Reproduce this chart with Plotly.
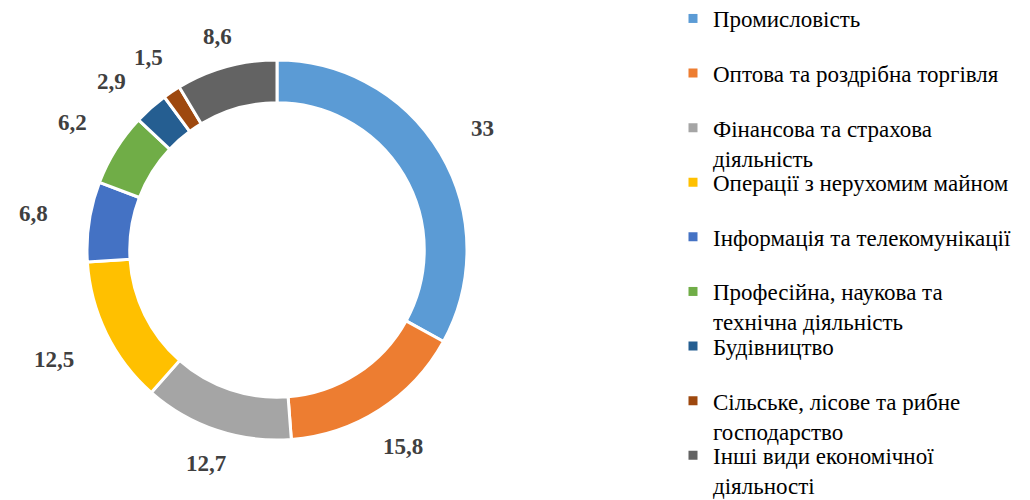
import math
import plotly.graph_objects as go

categories = [
    "Промисловість",
    "Оптова та роздрібна торгівля",
    "Фінансова та страхова<br>діяльність",
    "Операції з нерухомим майном",
    "Інформація та телекомунікації",
    "Професійна, наукова та<br>технічна діяльність",
    "Будівництво",
    "Сільське, лісове та рибне<br>господарство",
    "Інші види економічної<br>діяльності",
]
values = [33, 15.8, 12.7, 12.5, 6.8, 6.2, 2.9, 1.5, 8.6]
colors = ["#5B9BD5", "#ED7D31", "#A5A5A5", "#FFC000", "#4472C4",
          "#70AD47", "#255E91", "#9E480E", "#636363"]

W, H = 1030, 500
cx, cy, R = 277, 250, 190
SERIF = "Liberation Serif, 'DejaVu Serif', serif"

fig = go.Figure()
fig.add_trace(go.Pie(
    labels=[c.replace("<br>", " ") for c in categories],
    values=values,
    sort=False,
    direction="clockwise",
    rotation=0,
    hole=0.775,
    textinfo="none",
    hoverinfo="label+value",
    showlegend=False,
    marker=dict(colors=colors, line=dict(color="white", width=3)),
    domain=dict(x=[(cx - R) / W, (cx + R) / W], y=[(H - cy - R) / H, (H - cy + R) / H]),
))

# legend: one entry per slice, laid out in equal slots (as in the source chart)
leg_fs = 23
slot = 54.6
first_top = -3
legends = {}
for i, (cat, col) in enumerate(zip(categories, colors)):
    key = "legend" if i == 0 else f"legend{i + 1}"
    fig.add_trace(go.Scatter(
        x=[None], y=[None], mode="markers", name=cat,
        marker=dict(symbol="square", size=9, color=col),
        legend=key, showlegend=True, hoverinfo="skip",
    ))
    top_px = first_top + i * slot
    legends[key] = dict(
        x=673 / W, y=1 - top_px / H, xanchor="left", yanchor="top",
        valign="top", bgcolor="rgba(0,0,0,0)",
        font=dict(family=SERIF, size=leg_fs, color="#000000"),
    )

# data labels placed outside along each slice's mid-angle
fs = 23
r_base = 212
total = sum(values)
mids = []
cum = 0
for v in values:
    mids.append((cum + v / 2) / total * 360.0)
    cum += v


def label_box(deg, txt):
    a = math.radians(deg)
    s, c = math.sin(a), math.cos(a)
    ndig = sum(ch.isdigit() for ch in txt)
    ncom = txt.count(",")
    w = fs * (0.5 * ndig + 0.25 * ncom)
    h = fs * 0.85
    d = r_base + (w / 2 + 20) * abs(s)
    return cx + d * s, cy - d * c, w, h


placed = []
annotations = []
for i in reversed(range(len(values))):
    txt = (f"{values[i]:g}").replace(".", ",")
    deg = mids[i]
    while True:
        x, y, w, h = label_box(deg, txt)
        clash = any(abs(x - px) < (w + pw) / 2 + 8 and abs(y - py) < (h + ph) / 2 + 8
                    for px, py, pw, ph in placed)
        if not clash:
            break
        deg -= 1
    placed.append((x, y, w, h))
    annotations.append(dict(
        x=x / W, y=1 - y / H, xref="paper", yref="paper",
        text=f"<b>{txt}</b>", showarrow=False,
        xanchor="center", yanchor="middle",
        font=dict(family=SERIF, size=fs, color="#404040"),
    ))

fig.update_layout(
    width=W, height=H,
    margin=dict(l=0, r=0, t=0, b=0, autoexpand=False),
    paper_bgcolor="white",
    plot_bgcolor="white",
    font=dict(family=SERIF, color="#000000"),
    xaxis=dict(visible=False),
    yaxis=dict(visible=False),
    annotations=annotations,
    **legends,
)

fig.write_html("out.html", config={"displayModeBar": False},
               post_script="document.body.style.margin='0';")
